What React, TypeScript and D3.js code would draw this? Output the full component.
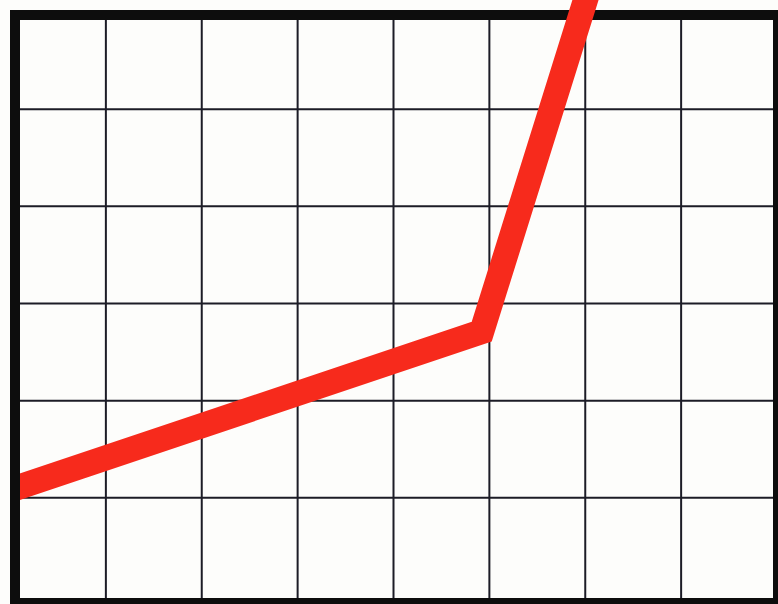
import { useEffect } from "react";
import * as d3 from "d3";

// grid is 8 columns by 6 rows, values read in grid units
const colTicks = [1, 2, 3, 4, 5, 6, 7];
const rowTicks = [1, 2, 3, 4, 5];
const lineX = [0, 4.92, 6.09];
const lineY = [1.08, 2.71, 6.4];

function App() {
  const width = 778;
  const height = 604;

  useEffect(() => {
    document.body.style.margin = "0";
  }, []);

  const xScale = d3.scaleLinear().domain([0, 8]).range([10, 777]);
  const yScale = d3.scaleLinear().domain([0, 6]).range([595, 12]);

  const points: [number, number][] = lineX.map((x, i) => [x, lineY[i]]);
  const line = d3
    .line<[number, number]>()
    .x((d) => xScale(d[0]))
    .y((d) => yScale(d[1]));

  const frameColor = "#0d0d0d";
  const gridColor = "#1c1c26";

  return (
    <svg width={width} height={height} style={{ display: "block", background: "#fdfdfb" }}>
      <defs>
        <clipPath id="leftClip">
          <rect x={xScale(0)} y={-50} width={width} height={height + 100} />
        </clipPath>
      </defs>
      <g>
        {colTicks.map((t) => (
          <line key={"c" + t} x1={xScale(t)} x2={xScale(t)} y1={15} y2={600} stroke={gridColor} strokeWidth={2} />
        ))}
        {rowTicks.map((t) => (
          <line key={"r" + t} x1={15} x2={778} y1={yScale(t)} y2={yScale(t)} stroke={gridColor} strokeWidth={2} />
        ))}
      </g>
      {/* top edge goes under the red line */}
      <line x1={10} x2={783} y1={15} y2={15} stroke={frameColor} strokeWidth={10} />
      <path
        d={line(points) || ""}
        fill="none"
        stroke="#f72a1c"
        strokeWidth={25}
        strokeLinejoin="miter"
        strokeLinecap="butt"
        clipPath="url(#leftClip)"
      />
      <line x1={15} x2={15} y1={10} y2={609} stroke={frameColor} strokeWidth={10} />
      <line x1={778} x2={778} y1={10} y2={609} stroke={frameColor} strokeWidth={10} />
      <line x1={10} x2={783} y1={603} y2={603} stroke={frameColor} strokeWidth={10} />
    </svg>
  );
}

export default App;
